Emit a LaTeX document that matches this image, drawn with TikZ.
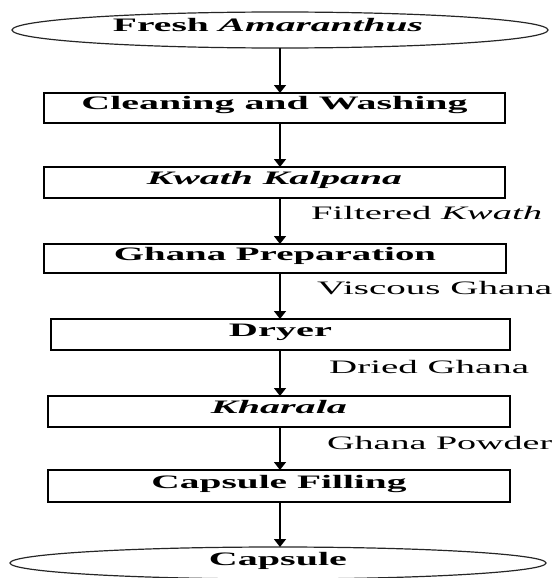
\documentclass[tikz,border=0pt]{standalone}
\usepackage{fontspec}
\setmainfont{Liberation Serif}
\usepackage{graphicx}
\usetikzlibrary{shapes.geometric,arrows.meta}
\newcommand{\fitw}[2]{\resizebox{#1}{\height}{#2}}
\tikzset{
  stepbox/.style={draw=black, line width=1.4pt, rectangle, inner sep=0pt, outer sep=0pt,
    minimum width=461pt, text height=13pt, text depth=9pt, font=\fontsize{19}{21}\selectfont\bfseries},
  endell/.style={draw=black!85, line width=1.2pt, ellipse, inner sep=0pt, outer sep=0pt,
    minimum width=536pt, text height=13pt, text depth=9pt, font=\fontsize{19}{21}\selectfont\bfseries},
  flowlabel/.style={anchor=base west, inner sep=0pt, font=\fontsize{19}{21}\selectfont},
  arr/.style={draw=black, line width=1.5pt, -{Triangle[width=12pt,length=8pt]}}
}
\begin{document}
\begin{tikzpicture}[x=1pt,y=-1pt]
\path[use as bounding box] (0,0) rectangle (555,578);
\clip (0,0) rectangle (555,578);
\coordinate (ax) at (280,0);
\node[endell, minimum height=36pt] (top) at (280,30) {\fitw{310pt}{Fresh \textit{Amaranthus}}\hspace*{24pt}};
\node[stepbox, minimum height=30pt] (b1) at (274.5,108) {\fitw{386pt}{Cleaning and Washing}};
\node[stepbox, minimum height=31pt] (b2) at (274.5,182.5) {\fitw{255pt}{\textit{Kwath Kalpana}}};
\node[stepbox, minimum height=29pt, minimum width=462pt] (b3) at (275,258.5) {\fitw{322pt}{Ghana Preparation}};
\node[stepbox, minimum height=31pt, minimum width=459pt] (b4) at (280.5,334.5) {\fitw{103pt}{Dryer}};
\node[stepbox, minimum height=31pt, minimum width=462pt] (b5) at (279,411.5) {\fitw{136pt}{\textit{Kharala}}};
\node[stepbox, minimum height=32pt, minimum width=462pt] (b6) at (279,486) {\fitw{255pt}{Capsule Filling}};
\node[endell, minimum height=32pt] (bot) at (278,563) {\fitw{138pt}{Capsule}};

\node[flowlabel] (l1) at (311,219) {\fitw{231pt}{Filtered \textit{Kwath}}};
\node[flowlabel] (l2) at (317,294) {\fitw{235pt}{Viscous Ghana}};
\node[flowlabel] (l3) at (329,373) {\fitw{200pt}{Dried Ghana}};
\node[flowlabel] (l4) at (327,449) {\fitw{225pt}{Ghana Powder}};

\draw[arr] (top.south -| ax) -- (b1.north -| ax);
\draw[arr] (b1.south -| ax) -- (b2.north -| ax);
\draw[arr] (b2.south -| ax) -- (b3.north -| ax);
\draw[arr] (b3.south -| ax) -- (b4.north -| ax);
\draw[arr] (b4.south -| ax) -- (b5.north -| ax);
\draw[arr] (b5.south -| ax) -- (b6.north -| ax);
\draw[arr] (b6.south -| ax) -- (bot.north -| ax);
\end{tikzpicture}
\end{document}
